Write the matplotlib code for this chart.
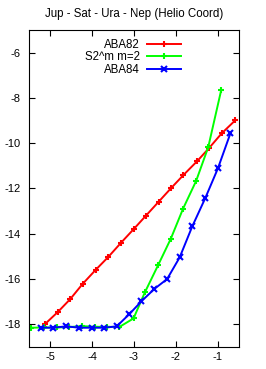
import matplotlib
matplotlib.use('Agg')
import matplotlib.pyplot as plt

plt.rcParams['font.family'] = ['Liberation Sans', 'DejaVu Sans']
plt.rcParams['axes.unicode_minus'] = False

# ABA82
x_aba82 = [-5.12, -4.81, -4.52, -4.22, -3.91, -3.61, -3.31, -3.01, -2.71, -2.41,
           -2.12, -1.82, -1.50, -1.21, -0.91, -0.59]
y_aba82 = [-18.0, -17.46, -16.9, -16.22, -15.6, -15.03, -14.41, -13.81, -13.2, -12.59,
           -12.0, -11.41, -10.81, -10.22, -9.57, -9.0]

# S2^m m=2
x_s2m = [-5.46, -5.15, -4.84, -4.54, -4.23, -3.93, -3.63, -3.35, -3.01, -2.74,
         -2.42, -2.12, -1.83, -1.52, -1.23, -0.92]
y_s2m = [-18.16, -18.15, -18.15, -18.13, -18.09, -18.12, -18.12, -18.13, -17.75, -16.6,
         -15.38, -14.22, -12.9, -11.68, -10.18, -7.65]

# ABA84
x_aba84 = [-5.22, -4.93, -4.61, -4.31, -4.01, -3.71, -3.41, -3.11, -2.82, -2.51,
           -2.21, -1.91, -1.61, -1.30, -1.00, -0.70]
y_aba84 = [-18.16, -18.16, -18.1, -18.16, -18.16, -18.16, -18.1, -17.56, -16.99, -16.44,
           -16.01, -15.05, -13.68, -12.43, -11.12, -9.56]

fig = plt.figure(figsize=(2.66, 3.69), dpi=100)
ax = fig.add_axes([0.109, 0.0604, 0.789, 0.8583])

ax.plot(x_aba82, y_aba82, color='#ff0000', lw=1.4, marker='+', ms=4, mew=1.5, label='ABA82')
ax.plot(x_s2m, y_s2m, color='#00ff00', lw=1.4, marker='+', ms=4, mew=1.5, label='S2^m m=2')
ax.plot(x_aba84, y_aba84, color='#0000ff', lw=1.4, marker='x', ms=4, mew=1.5, label='ABA84')

ax.set_xlim(-5.5, -0.5)
ax.set_ylim(-19, -5)
ax.set_xticks([-5, -4, -3, -2, -1])
ax.set_yticks([-18, -16, -14, -12, -10, -8, -6])
ax.tick_params(direction='in', top=True, right=True, labelsize=8, length=4)
ax.tick_params(axis='y', pad=6)
ax.tick_params(axis='x', pad=4)
ax.set_title('Jup - Sat - Ura - Nep (Helio Coord)', fontsize=8.3, pad=9)

ax.legend(loc='upper center', bbox_to_anchor=(0.495, 1.0), frameon=False, markerfirst=False,
          fontsize=8.3, handlelength=2.9, labelspacing=0.05, borderpad=0.25, handletextpad=0.6)

plt.savefig('out.png', dpi=100)
